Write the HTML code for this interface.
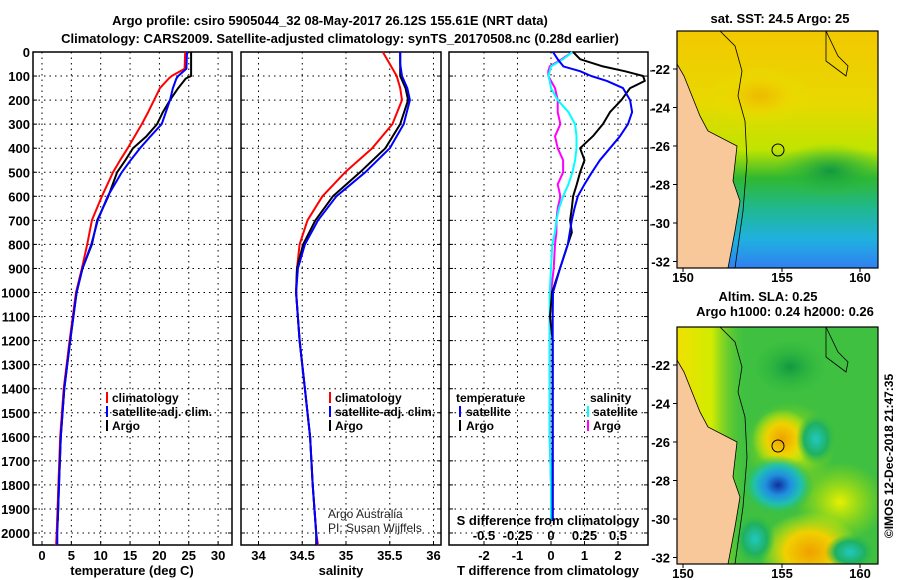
<!DOCTYPE html>
<html><head><meta charset="utf-8"><style>
body{margin:0;background:#fff;}
svg{display:block;font-family:"Liberation Sans",sans-serif;}
.t{font-weight:bold;font-size:13px;}
.tk{font-weight:bold;font-size:13px;}
</style></head><body>
<svg id="c" width="900" height="580" viewBox="0 0 900 580">
<defs>
<linearGradient id="sst" x1="0" y1="0" x2="0" y2="1">
<stop offset="0" stop-color="#f2c800"/><stop offset="0.3" stop-color="#e8d800"/><stop offset="0.5" stop-color="#c0e400"/>
<stop offset="0.62" stop-color="#30b830"/><stop offset="0.75" stop-color="#20b890"/><stop offset="0.88" stop-color="#20b0e0"/><stop offset="1" stop-color="#3080f0"/>
</linearGradient>
<linearGradient id="coastY" x1="0" y1="0" x2="1" y2="0">
<stop offset="0" stop-color="#f0e000"/><stop offset="0.5" stop-color="#d0ec00"/><stop offset="1" stop-color="#40c040" stop-opacity="0"/>
</linearGradient>
<radialGradient id="rOr"><stop offset="0" stop-color="#f0a000"/><stop offset="0.5" stop-color="#f0d000"/><stop offset="1" stop-color="#e0f000" stop-opacity="0"/></radialGradient>
<radialGradient id="rBl"><stop offset="0" stop-color="#1030a0"/><stop offset="0.35" stop-color="#2090e0"/><stop offset="0.65" stop-color="#20c0b0"/><stop offset="1" stop-color="#30c040" stop-opacity="0"/></radialGradient>
<radialGradient id="rCy"><stop offset="0" stop-color="#20c8c0"/><stop offset="0.6" stop-color="#20b060"/><stop offset="1" stop-color="#30c040" stop-opacity="0"/></radialGradient>
<radialGradient id="rYe"><stop offset="0" stop-color="#e8f000"/><stop offset="1" stop-color="#b0e000" stop-opacity="0"/></radialGradient>
<radialGradient id="rDg"><stop offset="0" stop-color="#109840"/><stop offset="1" stop-color="#30c040" stop-opacity="0"/></radialGradient>
<clipPath id="m1"><rect x="677" y="31" width="201" height="237"/></clipPath>
<clipPath id="m2"><rect x="677" y="327" width="201" height="237"/></clipPath>
</defs>
</svg>
<script>
// ---------- data ----------
const depthT = [0,70,100,110,150,200,250,300,350,400,450,500,600,700,800,900,1000,1200,1400,1600,1800,2000,2050];
const tempClim = [24.4,24.3,22.1,21.6,20.1,19.1,18.1,17.0,15.8,14.6,13.3,12.1,10.2,8.5,7.7,6.8,5.8,4.7,3.7,3.1,2.8,2.5,2.4];
const tempSat  = [24.7,24.6,23.2,22.9,22.3,21.8,21.1,20.4,18.5,16.7,15.1,13.6,11.2,9.5,8.4,6.9,5.9,4.8,3.8,3.2,2.9,2.6,2.6];
const depthArgo = [0,100,110,150,200,250,300,350,400,450,500,600,700,800,900,1000,1200,1400,1600,1800,1950];
const tempArgo = [25.4,25.4,24.5,23.2,21.8,20.6,19.6,17.8,15.5,14.2,12.8,11.3,9.4,8.5,6.9,5.9,4.8,3.8,3.2,2.9,2.7];
const depthS = [0,50,100,150,200,300,400,500,600,700,800,900,1000,1200,1400,1600,1800,2000,2050];
const salClim = [35.42,35.50,35.58,35.62,35.64,35.53,35.30,34.99,34.73,34.56,34.47,34.44,34.43,34.47,34.53,34.59,34.62,34.66,34.68];
const salSat  = [35.62,35.62,35.64,35.70,35.73,35.66,35.50,35.22,34.89,34.68,34.53,34.45,34.43,34.47,34.53,34.59,34.62,34.66,34.67];
const salArgo = [35.62,35.62,35.62,35.68,35.71,35.62,35.45,35.16,34.85,34.65,34.51,34.44,34.43,34.47,34.53,34.59,34.62,34.66,34.66];
const depthD = [0,30,60,80,100,120,150,200,250,300,350,400,450,500,550,600,650,700,750,800,900,1000,1100,1200,1400,1600,1800,1950];
const dTArgo = [0.66,0.87,1.55,2.2,2.75,2.8,2.36,2.1,1.76,1.55,1.25,0.87,1.0,0.87,0.77,0.66,0.62,0.57,0.62,0.5,0.27,0.03,-0.03,0.05,0.05,0.05,0.05,0.05];
const dTSat  = [0.06,0.2,0.37,0.87,1.2,1.67,2.15,2.36,2.42,2.3,2.06,1.76,1.46,1.22,1.0,0.8,0.7,0.62,0.56,0.5,0.27,0.06,0.05,0.05,0.05,0.05,0.05,0.05];
const dSArgo = [0.16,0.08,-0.01,-0.02,-0.02,0.0,0.03,0.05,0.05,0.07,0.03,0.05,0.09,0.09,0.05,0.07,0.05,0.04,0.04,0.03,0.02,0.0,-0.01,-0.01,-0.01,-0.01,0,0];
const dSSat  = [0.16,0.09,0.0,-0.01,-0.02,-0.01,0.0,0.05,0.13,0.18,0.19,0.19,0.18,0.16,0.13,0.09,0.06,0.04,0.03,0.01,0.0,-0.01,-0.01,-0.01,-0.01,-0.01,0,0];
const depthTicks = [0,100,200,300,400,500,600,700,800,900,1000,1100,1200,1300,1400,1500,1600,1700,1800,1900,2000];
const tempTicks = [0,5,10,15,20,25,30];
const salTicks = [34,34.5,35,35.5,36];
const salTickLabels = ["34","34.5","35","35.5","36"];
const dTTicks = [-2,-1,0,1,2];
const dSTicks = [-0.5,-0.25,0,0.25,0.5];
const dSTickLabels = ["-0.5","-0.25","0","0.25","0.5"];

// ---------- helpers ----------
const svg = document.getElementById('c');
const NS = 'http://www.w3.org/2000/svg';
function mk(tag, attrs, parent){const e=document.createElementNS(NS,tag);for(const k in attrs)e.setAttribute(k,attrs[k]);(parent||svg).appendChild(e);return e;}
function txt(x,y,s,cls,anchor,parent){const e=mk('text',{x:x,y:y,'text-anchor':anchor||'middle','class':cls||'t'},parent);e.textContent=s;return e;}
const TOP=52, BOT=545;
const yD = d => TOP + d*0.2405;
const xT = t => 42 + t*5.87;
const xS = s => 258.5 + (s-34)*87.5;
const xDT = v => 551 + v*33.5;
const xDS = v => 551 + v*134;
const panels = [[33,232],[241,441],[449,648]];

panels.forEach((p,i)=>{
  const g=mk('g',{});
  
  
  depthTicks.forEach(d=>{ if(d>0) mk('line',{x1:p[0],x2:p[1],y1:yD(d),y2:yD(d),stroke:'#000','stroke-dasharray':'1.5,4'},g);
    mk('line',{x1:p[0],x2:p[0]+4,y1:yD(d),y2:yD(d),stroke:'#000'},g);
    mk('line',{x1:p[1]-4,x2:p[1],y1:yD(d),y2:yD(d),stroke:'#000'},g);});
  mk('rect',{x:p[0],y:TOP,width:p[1]-p[0],height:BOT-TOP,fill:'none',stroke:'#000','stroke-width':1.5},g);
});
depthTicks.forEach(d=>{const e=txt(30,yD(d)+5,String(d),'tk','end');
 
 });
function vgrid(ticks,fx,p,labels,ly){ticks.forEach((t,i)=>{const x=fx(t);
  mk('line',{x1:x,x2:x,y1:TOP,y2:BOT,stroke:'#000','stroke-dasharray':'1.5,4'});
  mk('line',{x1:x,x2:x,y1:BOT-4,y2:BOT,stroke:'#000'});
  const e=txt(x,ly,labels?labels[i]:String(t),'tk');
  
  });}
vgrid(tempTicks,xT,panels[0],null,560);
vgrid(salTicks,xS,panels[1],salTickLabels,560);
vgrid(dTTicks,xDT,panels[2],null,560);
dSTicks.forEach((t,i)=>{const e=txt(xDS(t),540,dSTickLabels[i],'tk');
 
 });
[71,110,148,187,225].forEach(y=>mk('line',{x1:650,x2:655,y1:y,y2:y,stroke:'#000'}));

function line(ds,vs,fx,color,w,name){
  const pts=ds.map((d,i)=>fx(vs[i]).toFixed(1)+','+yD(d).toFixed(1)).join(' ');
  const e=mk('polyline',{points:pts,fill:'none',stroke:color,'stroke-width':w,'stroke-linejoin':'round'});
  
  
}
line(depthT,tempClim,xT,'#f00',2,'temp-climatology-line');
line(depthArgo,tempArgo,xT,'#000',2,'temp-argo-line');
line(depthT,tempSat,xT,'#00f',2,'temp-satellite-line');
line(depthS,salClim,xS,'#f00',2,'sal-climatology-line');
line(depthS,salArgo,xS,'#000',2,'sal-argo-line');
line(depthS,salSat,xS,'#00f',2,'sal-satellite-line');
line(depthD,dSArgo,xDS,'#f0f',2,'s-diff-argo-line');
line(depthD,dSSat,xDS,'#0ff',2,'s-diff-satellite-line');
line(depthD,dTArgo,xDT,'#000',2,'t-diff-argo-line');
line(depthD,dTSat,xDT,'#00f',2,'t-diff-satellite-line');

[[132,575,'temperature (deg C)','x-axis-title-temperature'],[341,575,'salinity','x-axis-title-salinity'],[548,575,'T difference from climatology','x-axis-title-tdiff'],[548,525,'S difference from climatology','s-diff-axis-title']].forEach(a=>{
 const e=txt(a[0],a[1],a[2],'tk');  });
let e=txt(330,25,'Argo profile: csiro 5905044_32 08-May-2017 26.12S 155.61E (NRT data)','t');
 
e=txt(340,43,'Climatology: CARS2009. Satellite-adjusted climatology: synTS_20170508.nc (0.28d earlier)','t');
 

function leg(x,y,color,label,name,anchor,tx){
 const g=mk('g',{});  
 mk('line',{x1:x,x2:x,y1:y-10,y2:y+1,stroke:color,'stroke-width':2},g);
 const t=txt(tx,y,label,'','start',g); t.setAttribute('style','font-size:12px');}
leg(107,402,'#f00','climatology','legend-climatology',0,112);
leg(107,416,'#00f','satellite-adj. clim.','legend-satellite',0,112);
leg(107,430,'#000','Argo','legend-argo',0,112);
leg(330,402,'#f00','climatology','legend-climatology-2',0,335);
leg(330,416,'#00f','satellite-adj. clim.','legend-satellite-2',0,335);
leg(330,430,'#000','Argo','legend-argo-2',0,335);
e=txt(456,402,'temperature','','start'); e.setAttribute('style','font-size:12px');
 
leg(460,416,'#00f','satellite','legend-t-satellite',0,466);
leg(460,430,'#000','Argo','legend-t-argo',0,466);
e=txt(590,402,'salinity','','start'); e.setAttribute('style','font-size:12px');
 
leg(588,416,'#0ff','satellite','legend-s-satellite',0,593);
leg(588,430,'#f0f','Argo','legend-s-argo',0,593);
e=txt(328,518,'Argo Australia','','start'); e.setAttribute('style','font-size:12px;font-weight:normal;fill:#222');
 
e=txt(328,532,'PI: Susan Wijffels','','start'); e.setAttribute('style','font-size:12px;font-weight:normal;fill:#222');
 

// ---------- maps ----------
function map(top,clip,kind,name){
 const g=mk('g',{'clip-path':'url(#'+clip+')'});  
 const h=237;
 if(kind===1){
  mk('rect',{x:677,y:top,width:201,height:h,fill:'url(#sst)'},g);
  mk('ellipse',{cx:830,cy:top+140,rx:55,ry:28,fill:'url(#rDg)'},g);
  mk('ellipse',{cx:760,cy:top+65,rx:50,ry:30,fill:'url(#rOr)',opacity:0.5},g);
 } else {
  mk('rect',{x:677,y:top,width:201,height:h,fill:'#40c040'},g);
  mk('rect',{x:677,y:top,width:70,height:h,fill:'url(#coastY)'},g);
  mk('ellipse',{cx:790,cy:top+120,rx:45,ry:45,fill:'url(#rYe)'},g);
  mk('ellipse',{cx:782,cy:top+112,rx:30,ry:30,fill:'url(#rOr)'},g);
  mk('ellipse',{cx:840,cy:top+175,rx:45,ry:40,fill:'url(#rYe)'},g);
  mk('ellipse',{cx:810,cy:top+225,rx:50,ry:40,fill:'url(#rOr)'},g);
  mk('ellipse',{cx:778,cy:top+158,rx:36,ry:30,fill:'url(#rBl)'},g);
  mk('ellipse',{cx:816,cy:top+112,rx:20,ry:26,fill:'url(#rCy)'},g);
  mk('ellipse',{cx:755,cy:top+212,rx:20,ry:25,fill:'url(#rCy)'},g);
  mk('ellipse',{cx:850,cy:top+225,rx:25,ry:18,fill:'url(#rCy)'},g);
  mk('ellipse',{cx:790,cy:top+40,rx:40,ry:30,fill:'url(#rDg)'},g);
 }
 mk('path',{d:'M677,'+(top+33)+' L684,'+(top+45)+' L692,'+(top+65)+' L700,'+(top+85)+' L708,'+(top+100)+' L737,'+(top+115)+' L733,'+(top+150)+' L740,'+(top+170)+' L735,'+(top+200)+' L728,'+(top+237)+' L677,'+(top+237)+' Z',fill:'#f9c89a',stroke:'#000','stroke-width':0.8},g);
 mk('path',{d:'M720,'+top+' L735,'+(top+15)+' L742,'+(top+40)+' L738,'+(top+65)+' L745,'+(top+90)+' L747,'+(top+130)+' L743,'+(top+180)+' L735,'+(top+237),fill:'none',stroke:'#000','stroke-width':0.8},g);
 mk('path',{d:'M826,'+top+' L838,'+(top+25)+' L848,'+(top+35)+' L846,'+(top+45)+' L826,'+(top+30)+' Z',fill:'none',stroke:'#000','stroke-width':0.8},g);
 mk('circle',{cx:778,cy:top+119,r:6,fill:'none',stroke:'#000','stroke-width':1},g);
 mk('rect',{x:677,y:top,width:201,height:h,fill:'none',stroke:'#000','stroke-width':1.2});
 [[683,'150'],[782,'155'],[860,'160']].forEach(a=>{mk('line',{x1:a[0],x2:a[0],y1:top+h,y2:top+h+4,stroke:'#000'});
  const t=txt(a[0],top+h+14,a[1],'tk');  });
 ['-22','-24','-26','-28','-30','-32'].forEach((s,i)=>{const y=top+38+i*38.5;
  mk('line',{x1:673,x2:677,y1:y,y2:y,stroke:'#000'});
  const t=txt(670,y+5,s,'tk','end');  });
}
map(31,'m1',1,'sst-map');
map(327,'m2',2,'sla-map');
e=txt(780,23,'sat. SST: 24.5 Argo: 25','t');  
e=txt(768,301,'Altim. SLA: 0.25','t');  
e=txt(785,316,'Argo h1000: 0.24 h2000: 0.26','t');  
e=txt(0,0,'©IMOS 12-Dec-2018 21:47:35','','middle'); e.setAttribute('transform','translate(893,456) rotate(-90)'); e.setAttribute('style','font-size:12px');
 
</script>
</body></html>
